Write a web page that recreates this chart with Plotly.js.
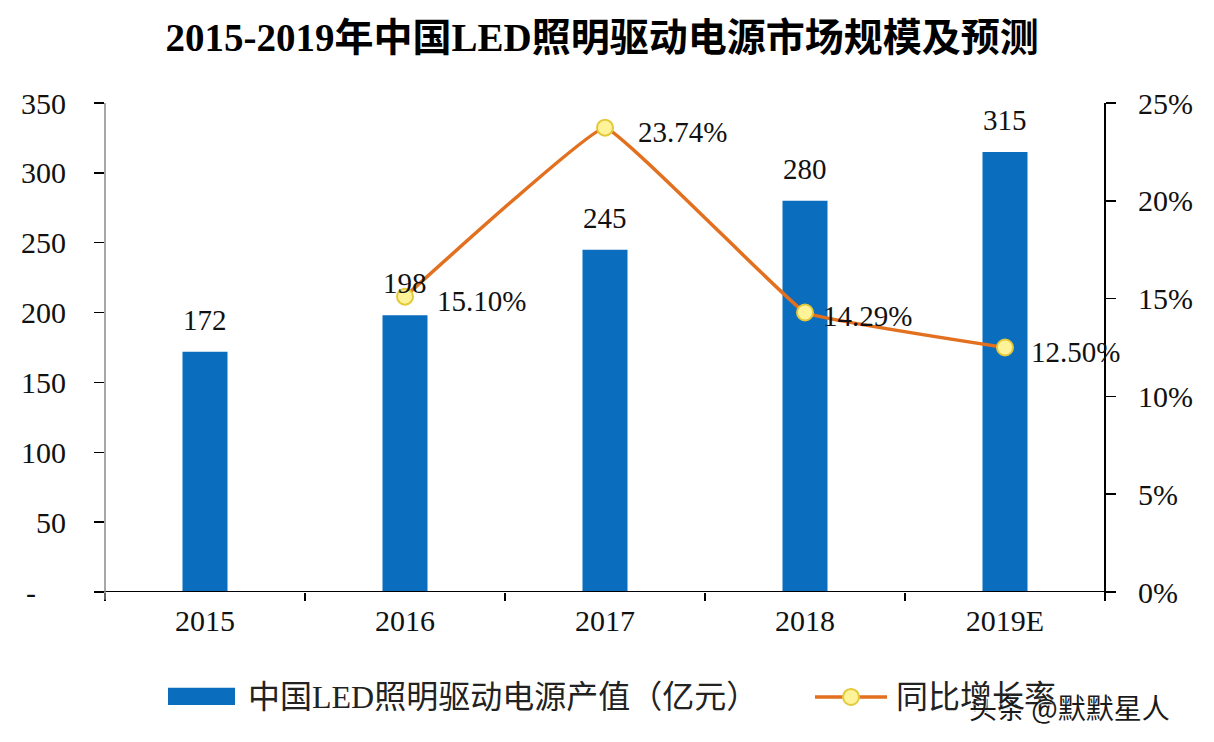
<!DOCTYPE html>
<html>
<head>
<meta charset="utf-8">
<script src="https://cdn.plot.ly/plotly-3.0.1.min.js"></script>
<style>html,body{margin:0;padding:0;background:#fff;}#chart{width:1214px;height:742px;}</style>
</head>
<body>
<div id="chart"></div>
<script>
// ---- data ----
const years = ['2015', '2016', '2017', '2018', '2019E'];
const outputValue = [172, 198, 245, 280, 315];          // 亿元
const growthYears = ['2016', '2017', '2018', '2019E'];
const growthRate = [15.10, 23.74, 14.29, 12.50];         // %
const leftTickVals = [0, 50, 100, 150, 200, 250, 300, 350];
const leftTickText = ['-\u2007\u2007', '50', '100', '150', '200', '250', '300', '350'];
const rightTickVals = [0, 5, 10, 15, 20, 25];
const rightTickText = ['0%', '5%', '10%', '15%', '20%', '25%'];
const barName = '中国LED照明驱动电源产值（亿元）';
const lineName = '同比增长率';
const titleText = '2015-2019年中国LED照明驱动电源市场规模及预测';
const watermark = '头条 @默默星人';

// ---- style ----
const FONT = '"Liberation Serif", "Times New Roman", "Noto Sans CJK SC", serif';
const BAR_COLOR = '#0B6DBE';
const LINE_COLOR = '#E2701E';
const MARKER_FILL = '#FFF39A';
const MARKER_LINE = '#E3C93A';
const rateLabelShift = [30, 31, 16, 24];

const traces = [
  {
    type: 'bar', x: years, y: outputValue, name: barName,
    marker: {color: BAR_COLOR}, width: 0.225, hoverinfo: 'x+y'
  },
  {
    type: 'scatter', mode: 'lines+markers', x: growthYears, y: growthRate, yaxis: 'y2',
    name: lineName,
    line: {color: LINE_COLOR, width: 3.5, shape: 'spline', smoothing: 0.2},
    marker: {size: 16, color: MARKER_FILL, line: {color: MARKER_LINE, width: 2}}
  }
];

const annotations = [];
years.forEach((yr, i) => {
  annotations.push({
    x: years.indexOf(yr), y: outputValue[i], xref: 'x', yref: 'y', text: String(outputValue[i]),
    showarrow: false, yshift: 32, xanchor: 'center', yanchor: 'middle',
    font: {family: FONT, size: 29, color: '#111'}
  });
});
growthYears.forEach((yr, i) => {
  annotations.push({
    x: years.indexOf(yr), y: growthRate[i], xref: 'x', yref: 'y2', text: growthRate[i].toFixed(2) + '%',
    showarrow: false, xshift: rateLabelShift[i], yshift: -4, xanchor: 'left', yanchor: 'middle',
    font: {family: FONT, size: 29, color: '#111'}
  });
});
// custom legend texts
annotations.push({
  x: 0.141, y: -0.215, xref: 'paper', yref: 'paper', text: barName, showarrow: false,
  xanchor: 'left', yanchor: 'middle', font: {family: FONT, size: 32, color: '#222'}
});
annotations.push({
  x: 0.789, y: -0.215, xref: 'paper', yref: 'paper', text: lineName, showarrow: false,
  xanchor: 'left', yanchor: 'middle', font: {family: FONT, size: 32, color: '#222'}
});
annotations.push({
  x: 0.862, y: -0.235, xref: 'paper', yref: 'paper', text: watermark, showarrow: false,
  xanchor: 'left', yanchor: 'middle',
  font: {family: '"Noto Sans CJK SC", sans-serif', size: 28, color: '#1a1a1a', shadow: '1px 1px 1px #fff'}
});

const shapes = [
  {type: 'line', xref: 'paper', yref: 'y', x0: -0.01, x1: 1.01, y0: 0, y1: 0, line: {color: '#000', width: 2}, layer: 'above'},
  {type: 'line', xref: 'paper', yref: 'paper', x0: 0, x1: 0, y0: -0.016, y1: 1, line: {color: '#8a8a8a', width: 1.5}},
  {type: 'line', xref: 'paper', yref: 'paper', x0: 1, x1: 1, y0: -0.016, y1: 1, line: {color: '#000', width: 2}},
  {type: 'rect', xref: 'paper', yref: 'paper', x0: 0.063, x1: 0.130, y0: -0.231, y1: -0.196, fillcolor: BAR_COLOR, line: {width: 0}},
  {type: 'line', xref: 'paper', yref: 'paper', x0: 0.710, x1: 0.782, y0: -0.2147, y1: -0.2147, line: {color: LINE_COLOR, width: 3.5}},
  {type: 'circle', xref: 'paper', yref: 'paper', xsizemode: 'pixel', ysizemode: 'pixel',
   xanchor: 0.746, yanchor: -0.2147, x0: -8, x1: 8, y0: -8, y1: 8,
   fillcolor: MARKER_FILL, line: {color: MARKER_LINE, width: 2}}
];

const layout = {
  width: 1214, height: 742,
  margin: {l: 105, r: 109, t: 103, b: 150},
  paper_bgcolor: '#fff', plot_bgcolor: '#fff',
  font: {family: FONT, color: '#111'},
  showlegend: false,
  title: {
    text: titleText, x: 0.496, xanchor: 'center', y: 0.95, yanchor: 'middle', yref: 'container',
    font: {family: FONT, size: 39, color: '#000', weight: 'bold'}
  },
  xaxis: {
    type: 'category', range: [-0.5, 4.5], showgrid: false, zeroline: false, showline: false,
    ticks: 'outside', tickson: 'boundaries', ticklen: 8, tickwidth: 1.5, tickcolor: '#000',
    tickfont: {family: FONT, size: 30, color: '#111'}, ticklabelstandoff: 8
  },
  yaxis: {
    range: [0, 350], tickvals: leftTickVals, ticktext: leftTickText,
    showgrid: false, zeroline: false, showline: false,
    ticks: 'outside', ticklen: 10, tickwidth: 1.5, tickcolor: '#000',
    tickfont: {family: FONT, size: 30, color: '#111'}, ticklabelstandoff: 22
  },
  yaxis2: {
    overlaying: 'y', side: 'right', range: [0, 25], tickvals: rightTickVals, ticktext: rightTickText,
    showgrid: false, zeroline: false, showline: false,
    ticks: 'outside', ticklen: 10, tickwidth: 1.5, tickcolor: '#000',
    tickfont: {family: FONT, size: 30, color: '#111'}, ticklabelstandoff: 16
  },
  annotations: annotations,
  shapes: shapes
};

Plotly.newPlot('chart', traces, layout, {displayModeBar: false, staticPlot: true});
</script>
</body>
</html>
